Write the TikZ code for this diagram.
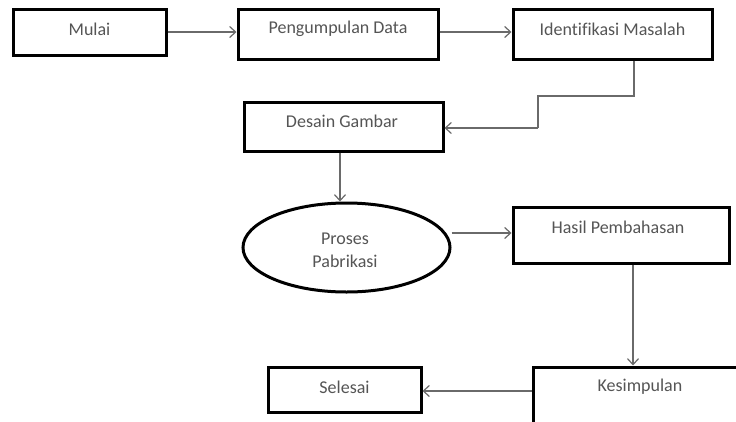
\documentclass[tikz,border=0pt]{standalone}
\usepackage{fontspec}
\setmainfont{Carlito}[Ligatures=NoCommon]
\usetikzlibrary{shapes.geometric,arrows.meta}
\definecolor{txtgray}{HTML}{555555}
\definecolor{linegray}{HTML}{6A6A6A}
\tikzset{
  box/.style={draw=black,line width=3pt,rectangle,inner sep=0pt,fill=white},
  oval/.style={draw=black,line width=3pt,ellipse,inner sep=0pt,fill=white},
  txt/.style={text=txtgray,font=\fontsize{18}{23}\selectfont,align=center,inner sep=0pt},
  conn/.style={draw=linegray,line width=1.4pt,-{Straight Barb[length=6pt,width=11pt,line width=1.2pt]}},
  seg/.style={draw=linegray,line width=1.4pt}
}
\begin{document}
\begin{tikzpicture}[x=1pt,y=-1pt]
\useasboundingbox (0,0) rectangle (736,421);
\clip (0,0) rectangle (736,421);
\fill[white] (0,0) rectangle (736,421);
\node[box,minimum width=153pt,minimum height=46pt,label={[txt,yshift=3pt]center:Mulai}] (m) at (89.5,32) {};
\node[box,minimum width=200pt,minimum height=50pt,label={[txt,yshift=5pt]center:Pengumpulan Data}] (p) at (338,34) {};
\node[box,minimum width=199pt,minimum height=50pt,label={[txt,yshift=5pt]center:Identifikasi Masalah}] (i) at (612.5,34) {};
\node[box,minimum width=199pt,minimum height=49pt,label={[txt,yshift=5.5pt,xshift=-1.5pt]center:Desain Gambar}] (d) at (343.5,126.5) {};
\node[oval,minimum width=207pt,minimum height=89pt,label={[txt,yshift=-3pt,xshift=-1.5pt]center:Proses\\Pabrikasi}] (e) at (346.5,247.5) {};
\node[box,minimum width=216pt,minimum height=56pt,label={[txt,yshift=8pt,xshift=-3pt]center:Hasil Pembahasan}] (h) at (621,235) {};
\node[box,minimum width=210pt,minimum height=60pt,label={[txt,yshift=10pt,xshift=2pt]center:Kesimpulan}] (k) at (638,397) {};
\node[box,minimum width=153pt,minimum height=45pt,label={[txt,yshift=2.5pt]center:Selesai}] (s) at (344.5,389.5) {};
\coordinate (c1) at (634,96);
\coordinate (c2) at (538,96);
\coordinate (c3) at (538,128);
\draw[conn] (m.east) -- (m.east -| p.west);
\draw[conn] (p.east |- m.east) -- (i.west |- m.east);
\draw[seg] (i.south -| c1) -- (c1) -- (c2) -- (c3);
\draw[conn] (c3) -- (c3 -| d.east);
\draw[conn] (d.south -| 340,0) -- (e.north -| 340,0);
\draw[conn] (e.east |- 0,233) -- (h.west |- 0,233);
\draw[conn] (h.south -| 633,0) -- (k.north -| 633,0);
\draw[conn] (k.west |- 0,391) -- (s.east |- 0,391);
\end{tikzpicture}
\end{document}
